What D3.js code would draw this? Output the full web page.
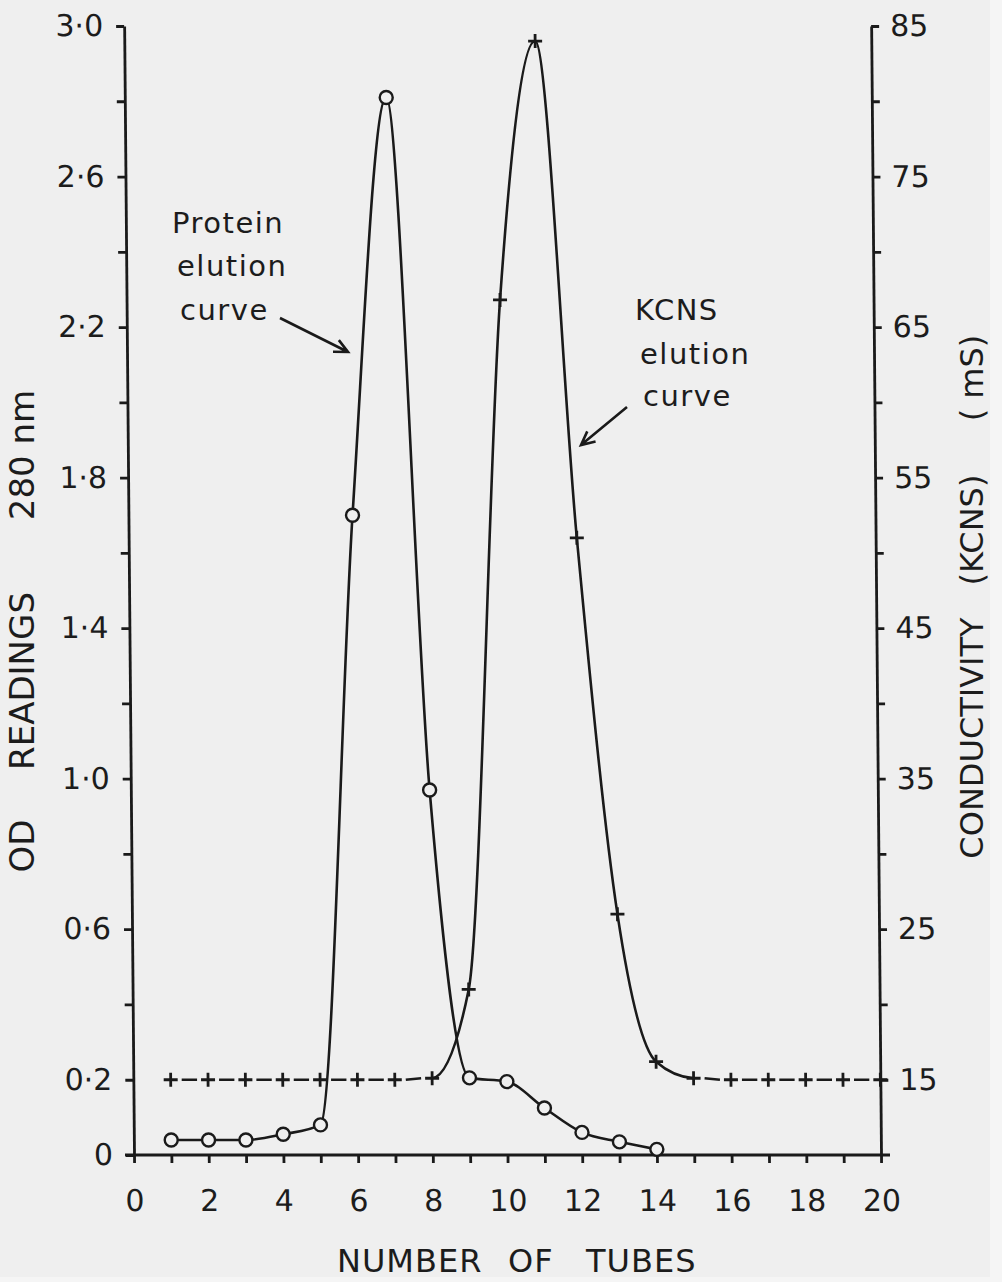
<!DOCTYPE html>
<html>
<head>
<meta charset="utf-8">
<script src="https://cdn.jsdelivr.net/npm/d3@7"></script>
<style>
    body { margin: 0; background: #efefef; }
    svg { display: block; }
    text { font-family: "DejaVu Sans", sans-serif; fill: #1c1c1c; }
</style>
</head>
<body>
<script>
// values
const proteinTubes = [1, 2, 3, 4, 5, 6, 7, 8, 9, 10, 11, 12, 13, 14];
const proteinOD = [0.04, 0.04, 0.04, 0.055, 0.08, 1.70, 2.81, 0.97, 0.205, 0.195, 0.125, 0.06, 0.035, 0.015];

const kcnsTubes = [1, 2, 3, 4, 5, 6, 7, 8, 9, 10, 11, 12, 13, 14, 15, 16, 17, 18, 19, 20];
const kcnsMs = [15, 15, 15, 15, 15, 15, 15, 15.1, 21, 66.8, 84, 51, 26, 16.2, 15.1, 15, 15, 15, 15, 15];
// the rise and fall of the KCNS curve is drawn solid, the flat parts dashed
const kcnsSolidFrom = 8, kcnsSolidTo = 15;

const xTickValues = [0, 1, 2, 3, 4, 5, 6, 7, 8, 9, 10, 11, 12, 13, 14, 15, 16, 17, 18, 19, 20];
const xTickLabels = [0, 2, 4, 6, 8, 10, 12, 14, 16, 18, 20];
const odTickValues = [0, 0.2, 0.4, 0.6, 0.8, 1.0, 1.2, 1.4, 1.6, 1.8, 2.0, 2.2, 2.4, 2.6, 2.8, 3.0];
const odTickLabels = [0, 0.2, 0.6, 1.0, 1.4, 1.8, 2.2, 2.6, 3.0];
const msTickValues = [15, 20, 25, 30, 35, 40, 45, 50, 55, 60, 65, 70, 75, 80, 85];
const msTickLabels = [15, 25, 35, 45, 55, 65, 75, 85];

const W = 1002, H = 1282;
const ink = "#1a1a1a", paper = "#efefef";
const base = 1155;
const lineW = 2.6;

const svg = d3.select("body").append("svg")
    .attr("width", W)
    .attr("height", H);

svg.append("rect").attr("width", W).attr("height", H).attr("fill", paper);
svg.append("rect").attr("x", 990).attr("width", W - 990).attr("height", H).attr("fill", "#f5f5f5");
svg.append("rect").attr("y", 1277).attr("width", W).attr("height", H - 1277).attr("fill", "#f5f5f5");

const x = d3.scaleLinear().domain([0, 20]).range([134, 881]);
const yOD = d3.scaleLinear().domain([0, 3]).range([base, 26]);
const yMs = d3.scaleLinear().domain([10, 85]).range([base, 26]);

// the scanned figure leans a little to the left
const g = svg.append("g")
    .attr("transform", `translate(0,${base}) skewX(0.5) translate(0,${-base})`);

const near = (arr, d) => arr.some(v => Math.abs(v - d) < 1e-6);
const odFmt = d => d === 0 ? "0" : d3.format(".1f")(d).replace(".", "\u00b7");

// left axis
const leftAxis = g.append("g")
    .attr("transform", `translate(${x(0)},0)`)
    .call(d3.axisLeft(yOD)
        .tickValues(odTickValues)
        .tickSize(8)
        .tickSizeOuter(0)
        .tickPadding(13)
        .tickFormat(d => near(odTickLabels, d) ? odFmt(d) : ""));

// right axis
const rightAxis = g.append("g")
    .attr("transform", `translate(${x(20)},0)`)
    .call(d3.axisRight(yMs)
        .tickValues(msTickValues)
        .tickSize(8)
        .tickSizeOuter(0)
        .tickPadding(11)
        .tickFormat(d => near(msTickLabels, d) ? d : ""));

// bottom axis
const bottomAxis = g.append("g")
    .attr("transform", `translate(0,${base})`)
    .call(d3.axisBottom(x)
        .tickValues(xTickValues)
        .tickSize(8)
        .tickSizeOuter(0)
        .tickPadding(27)
        .tickFormat(d => near(xTickLabels, d) ? d : ""));
bottomAxis.select(".domain").remove();
bottomAxis.append("line")
    .attr("x1", x(0) - 9).attr("x2", x(20) + 9)
    .attr("stroke", ink).attr("stroke-width", 2.8);

[leftAxis, rightAxis, bottomAxis].forEach(a => {
    a.attr("font-size", 30).attr("font-family", null);
    a.selectAll(".domain, .tick line").attr("stroke", ink).attr("stroke-width", 2.8);
    a.selectAll(".tick text").attr("fill", ink);
});

// protein elution curve
const protein = proteinTubes.map((t, i) => ({ t, v: proteinOD[i] }));
g.append("path")
    .datum(protein)
    .attr("fill", "none")
    .attr("stroke", ink)
    .attr("stroke-width", lineW)
    .attr("d", d3.line()
        .x(d => x(d.t))
        .y(d => yOD(d.v))
        .curve(d3.curveMonotoneX));

// KCNS elution curve
const kcns = kcnsTubes.map((t, i) => ({ t, v: kcnsMs[i] }));
g.append("clipPath").attr("id", "kcns-clip")
    .append("rect")
    .attr("x", x(kcnsSolidFrom)).attr("y", 0)
    .attr("width", x(kcnsSolidTo) - x(kcnsSolidFrom))
    .attr("height", H);
g.append("path")
    .datum(kcns)
    .attr("fill", "none")
    .attr("stroke", ink)
    .attr("stroke-width", lineW)
    .attr("clip-path", "url(#kcns-clip)")
    .attr("d", d3.line()
        .x(d => x(d.t))
        .y(d => yMs(d.v))
        .curve(d3.curveMonotoneX));

const dashes = d3.pairs(kcns).filter(([a, b]) => b.t <= kcnsSolidFrom || a.t >= kcnsSolidTo);
g.selectAll(".dash")
    .data(dashes)
    .enter().append("line")
    .attr("class", "dash")
    .attr("x1", d => x(d[0].t) + 11)
    .attr("x2", d => x(d[1].t) - 11)
    .attr("y1", d => yMs(d[0].v))
    .attr("y2", d => yMs(d[1].v))
    .attr("stroke", ink)
    .attr("stroke-width", lineW);

g.selectAll(".plus")
    .data(kcns)
    .enter().append("path")
    .attr("class", "plus")
    .attr("transform", d => `translate(${x(d.t)},${yMs(d.v)})`)
    .attr("d", "M-7,0H7M0,-7V7")
    .attr("stroke", ink)
    .attr("stroke-width", 2.8);

g.selectAll(".dot")
    .data(protein)
    .enter().append("circle")
    .attr("class", "dot")
    .attr("cx", d => x(d.t))
    .attr("cy", d => yOD(d.v))
    .attr("r", 6.5)
    .attr("fill", paper)
    .attr("stroke", ink)
    .attr("stroke-width", 2.4);

// annotations
function arrow(x1, y1, x2, y2) {
    const a = Math.atan2(y2 - y1, x2 - x1), L = 15, s = 0.45;
    return `M${x1},${y1}L${x2},${y2}` +
        `M${x2 - L * Math.cos(a - s)},${y2 - L * Math.sin(a - s)}L${x2},${y2}` +
        `L${x2 - L * Math.cos(a + s)},${y2 - L * Math.sin(a + s)}`;
}

const notes = [
    { lines: ["Protein", "elution", "curve"], xs: [172, 177, 180], ys: [233, 276, 320], arrow: [280, 318, 348, 352] },
    { lines: ["KCNS", "elution", "curve"], xs: [635, 640, 643], ys: [320, 364, 406], arrow: [627, 407, 581, 445] }
];
notes.forEach(n => {
    n.lines.forEach((s, i) => {
        svg.append("text")
            .attr("x", n.xs[i]).attr("y", n.ys[i])
            .attr("font-size", 29)
            .attr("letter-spacing", 1.5)
            .text(s);
    });
    svg.append("path")
        .attr("d", arrow(...n.arrow))
        .attr("fill", "none")
        .attr("stroke", ink)
        .attr("stroke-width", lineW);
});

// axis titles
[["NUMBER", 337], ["OF", 508], ["TUBES", 586]].forEach(([s, px]) => {
    svg.append("text")
        .attr("x", px).attr("y", 1272)
        .attr("font-size", 32)
        .attr("letter-spacing", 1)
        .text(s);
});

[["OD", 846], ["READINGS", 681], ["280 nm", 455]].forEach(([s, py]) => {
    svg.append("text")
        .attr("transform", `translate(34,${py}) rotate(-90)`)
        .attr("text-anchor", "middle")
        .attr("font-size", 34)
        .text(s);
});

[["CONDUCTIVITY", 738], ["(KCNS)", 530], ["( mS)", 378]].forEach(([s, py]) => {
    svg.append("text")
        .attr("transform", `translate(983,${py}) rotate(-90)`)
        .attr("text-anchor", "middle")
        .attr("font-size", 32)
        .text(s);
});
</script>
</body>
</html>
